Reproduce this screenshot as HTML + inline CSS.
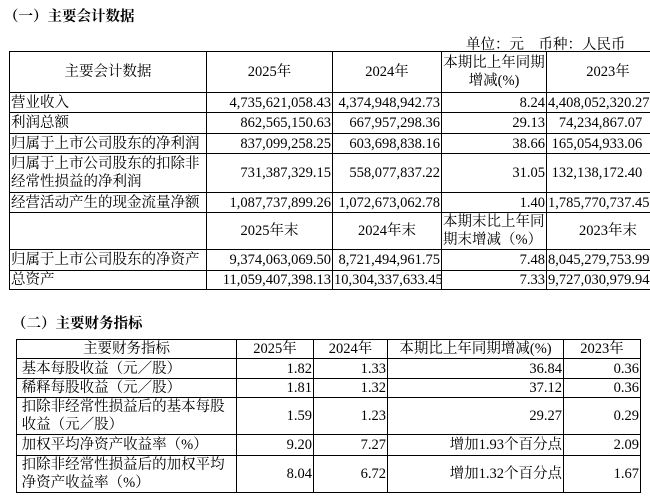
<!DOCTYPE html>
<html><head><meta charset="utf-8"><style>
body{margin:0;width:650px;height:501px;background:#fff;overflow:hidden;position:relative;font-family:"Liberation Serif","Noto Serif CJK SC",serif;color:#000;font-size:14.5px}
.t{position:absolute;font-weight:bold;font-size:14.5px}
table{position:absolute;border-collapse:collapse;table-layout:fixed}
td{border:1px solid #000;padding:0 1px;line-height:18px;white-space:nowrap;overflow:hidden}
.c{text-align:center}.r{text-align:right}.l{text-align:left}
</style></head><body>
<div class="t" style="left:4px;top:5px">（一）主要会计数据</div>
<div style="position:absolute;left:466px;top:33px">单位：元　币种：人民币</div>
<table style="left:9px;top:51px;width:660px">
<colgroup><col style="width:197px"><col style="width:126px"><col style="width:109px"><col style="width:105px"><col style="width:123px"></colgroup>
<tr style="height:41px"><td class="c">主要会计数据</td><td class="c">2025年</td><td class="c">2024年</td><td class="c" style="white-space:normal">本期比上年同期<br>增减(%)</td><td class="c">2023年</td></tr>
<tr style="height:20px"><td>营业收入</td><td class="r">4,735,621,058.43</td><td class="r">4,374,948,942.73</td><td class="r">8.24</td><td class="l">4,408,052,320.27</td></tr>
<tr style="height:21px"><td>利润总额</td><td class="r">862,565,150.63</td><td class="r">667,957,298.36</td><td class="r">29.13</td><td class="l">&nbsp;&nbsp;&nbsp;74,234,867.07</td></tr>
<tr style="height:20px"><td>归属于上市公司股东的净利润</td><td class="r">837,099,258.25</td><td class="r">603,698,838.16</td><td class="r">38.66</td><td class="l">&nbsp;165,054,933.06</td></tr>
<tr style="height:39px"><td>归属于上市公司股东的扣除非<br>经常性损益的净利润</td><td class="r">731,387,329.15</td><td class="r">558,077,837.22</td><td class="r">31.05</td><td class="l">&nbsp;132,138,172.40</td></tr>
<tr style="height:20px"><td>经营活动产生的现金流量净额</td><td class="r">1,087,737,899.26</td><td class="r">1,072,673,062.78</td><td class="r">1.40</td><td class="l">1,785,770,737.45</td></tr>
<tr style="height:37px"><td></td><td class="c">2025年末</td><td class="c">2024年末</td><td class="l">本期末比上年同<br>期末增减（%）</td><td class="c">2023年末</td></tr>
<tr style="height:21px"><td>归属于上市公司股东的净资产</td><td class="r">9,374,063,069.50</td><td class="r">8,721,494,961.75</td><td class="r">7.48</td><td class="l">8,045,279,753.99</td></tr>
<tr style="height:19px"><td>总资产</td><td class="r">11,059,407,398.13</td><td class="r">10,304,337,633.45</td><td class="r">7.33</td><td class="l">9,727,030,979.94</td></tr>
</table>
<div class="t" style="left:12px;top:312px">（二）主要财务指标</div>
<table style="left:16px;top:339px;width:624px">
<colgroup><col style="width:220px"><col style="width:77px"><col style="width:74px"><col style="width:176px"><col style="width:77px"></colgroup>
<tr style="height:19px"><td class="c">主要财务指标</td><td class="c">2025年</td><td class="c">2024年</td><td class="c">本期比上年同期增减(%)</td><td class="c">2023年</td></tr>
<tr style="height:20px"><td>&nbsp;基本每股收益（元／股）</td><td class="r">1.82</td><td class="r">1.33</td><td class="r">36.84</td><td class="r">0.36</td></tr>
<tr style="height:19px"><td>&nbsp;稀释每股收益（元／股）</td><td class="r">1.81</td><td class="r">1.32</td><td class="r">37.12</td><td class="r">0.36</td></tr>
<tr style="height:37px"><td>&nbsp;扣除非经常性损益后的基本每股<br>&nbsp;收益（元／股）</td><td class="r">1.59</td><td class="r">1.23</td><td class="r">29.27</td><td class="r">0.29</td></tr>
<tr style="height:21px"><td>&nbsp;加权平均净资产收益率（%）</td><td class="r">9.20</td><td class="r">7.27</td><td class="r">增加1.93个百分点</td><td class="r">2.09</td></tr>
<tr style="height:37px"><td>&nbsp;扣除非经常性损益后的加权平均<br>&nbsp;净资产收益率（%）</td><td class="r">8.04</td><td class="r">6.72</td><td class="r">增加1.32个百分点</td><td class="r">1.67</td></tr>
</table>
</body></html>
